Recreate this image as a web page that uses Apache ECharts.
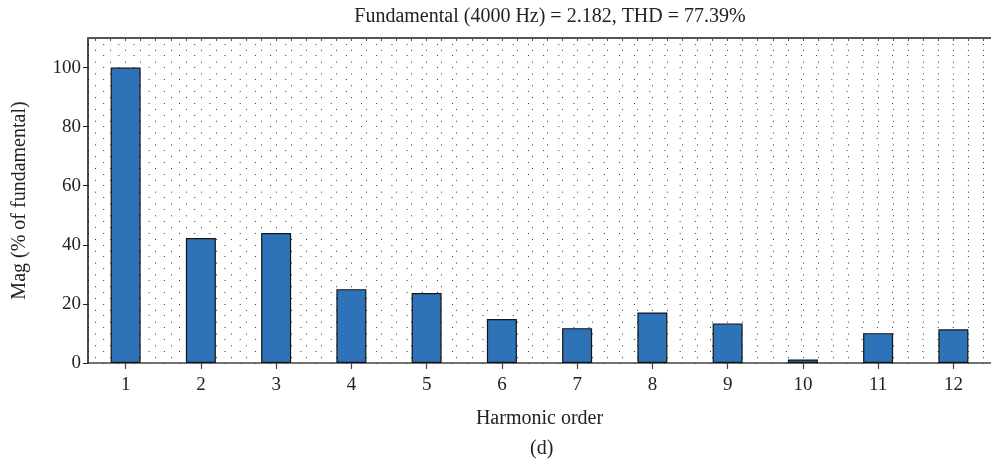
<!DOCTYPE html>
<html>
<head>
<meta charset="utf-8">
<script src="https://cdn.jsdelivr.net/npm/echarts@6/dist/echarts.min.js"></script>
<style>
html,body{margin:0;padding:0;background:#fff;}
#chart{width:991px;height:471px;}
</style>
</head>
<body>
<div id="chart"></div>
<script>
const harmonicOrders = ['1','2','3','4','5','6','7','8','9','10','11','12'];
const magnitudes = [100, 42.3, 44.0, 25.0, 23.7, 14.9, 11.8, 17.1, 13.4, 1.2, 10.1, 11.4];
const yTicks = [0, 20, 40, 60, 80, 100];
const titleText = 'Fundamental (4000 Hz) = 2.182, THD = 77.39%';
const xName = 'Harmonic order';
const yName = 'Mag (% of fundamental)';
const panelLabel = '(d)';

const FONT = '"Liberation Serif", "DejaVu Serif", serif';
// fine grid helper axis: 10 half-steps per category (boundaryGap false)
const fineCats = [];
for (let i = 0; i <= harmonicOrders.length * 10; i++) fineCats.push(String(i));

const chart = echarts.init(document.getElementById('chart'), null, {renderer: 'canvas'});
chart.setOption({
  animation: false,
  backgroundColor: '#fff',
  title: {
    text: titleText,
    left: 545, top: 2, textAlign: 'center',
    textStyle: {fontFamily: FONT, fontSize: 20, fontWeight: 'normal', color: '#222'}
  },
  graphic: [{
    type: 'text', left: 530, top: 439,
    style: {text: panelLabel, font: '20px ' + FONT, fill: '#222'}
  }],
  grid: {left: 88, top: 38, width: 910, height: 325, containLabel: false},
  xAxis: [{
    type: 'category',
    data: harmonicOrders,
    boundaryGap: true,
    position: 'bottom',
    axisLine: {show: true, lineStyle: {color: '#444', width: 1.5}},
    axisTick: {show: true, alignWithLabel: true, length: 6, lineStyle: {color: '#444', width: 1.2}},
    axisLabel: {fontFamily: FONT, fontSize: 19, color: '#222', margin: 13},
    splitLine: {show: false},
    name: xName, nameLocation: 'middle', nameGap: 46,
    nameTextStyle: {fontFamily: FONT, fontSize: 20, color: '#222'}
  }, {
    type: 'category',
    data: fineCats,
    boundaryGap: false,
    position: 'top',
    axisLine: {show: true, lineStyle: {color: '#555', width: 2}},
    axisTick: {show: true, inside: true, length: 3, interval: function (i) { return i % 2 === 1; }, lineStyle: {color: '#555'}},
    axisLabel: {show: false},
    splitLine: {show: true, interval: function (i) { return i % 2 === 1; },
      lineStyle: {color: '#333', width: 1, type: [1, 10.82]}}
  }],
  yAxis: {
    type: 'value',
    min: 0, max: 110, interval: 20,
    axisLine: {show: true, lineStyle: {color: '#111', width: 1.5}},
    axisTick: {show: true, length: 5, lineStyle: {color: '#222'}},
    axisLabel: {fontFamily: FONT, fontSize: 19, color: '#222', margin: 7, showMaxLabel: false,
      formatter: function (v) { return yTicks.indexOf(v) >= 0 ? String(v) : ''; }},
    splitLine: {show: true, lineStyle: {color: '#333', width: 1, type: [1, 14.17]}},
    minorTick: {show: false, splitNumber: 5},
    minorSplitLine: {show: true, lineStyle: {color: '#333', width: 1, type: [1, 14.17]}},
    name: yName, nameLocation: 'middle', nameGap: 58,
    nameTextStyle: {fontFamily: FONT, fontSize: 20, color: '#222'}
  },
  series: [{
    type: 'bar',
    xAxisIndex: 0,
    data: magnitudes,
    barWidth: 30,
    itemStyle: {color: '#2e72b8', borderColor: '#151515', borderWidth: 1.2},
    z: 3
  }]
});
</script>
</body>
</html>
